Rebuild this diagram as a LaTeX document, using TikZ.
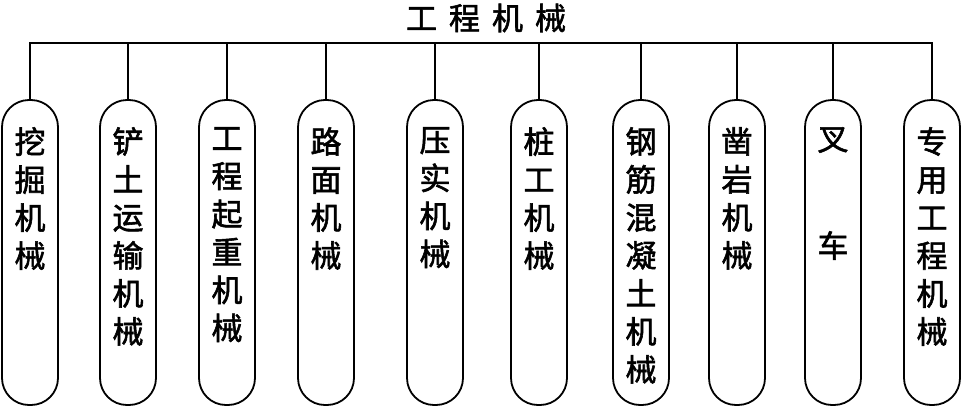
\documentclass[tikz,border=0pt]{standalone}
\usepackage{fontspec}
\newfontfamily\cjk[FakeBold=1.8]{Noto Sans CJK SC}
\tikzset{
  pill/.style={draw, line width=1.8pt, minimum width=56pt, minimum height=305pt, rounded corners=27pt, inner sep=0pt},
  vtext/.style={anchor=north, inner sep=0pt, align=center, font=\cjk\fontsize{31}{38}\selectfont},
  conn/.style={line width=1.8pt},
  titletext/.style={inner sep=0pt, font=\cjk\fontsize{31}{31}\selectfont}
}
\begin{document}
\begin{tikzpicture}[x=1pt,y=-1pt]
\useasboundingbox (0,0) rectangle (961,407);
\node[titletext] (title) at (486,18) {工\hspace{12pt}程\hspace{12pt}机\hspace{12pt}械};
\coordinate (bus) at (0,43);
\foreach \i/\x in {1/30,2/128,3/227,4/326,5/435,6/539,7/641,8/737,9/833,10/932}{
  \node[pill] (p\i) at (\x,252.5) {};
}
\node[vtext] (t1) at (30,127) {挖\\掘\\机\\械};
\node[vtext] (t2) at (128,127) {铲\\土\\运\\输\\机\\械};
\node[vtext] (t3) at (227,127) {工\\程\\起\\重\\机\\械};
\node[vtext] (t4) at (326,127) {路\\面\\机\\械};
\node[vtext] (t5) at (435,127) {压\\实\\机\\械};
\node[vtext] (t6) at (539,127) {桩\\工\\机\\械};
\node[vtext] (t7) at (641,127) {钢\\筋\\混\\凝\\土\\机\\械};
\node[vtext] (t8) at (737,127) {凿\\岩\\机\\械};
\node[vtext] (t9) at (833,127) {叉\\[69pt]车};
\node[vtext] (t10) at (932,127) {专\\用\\工\\程\\机\\械};
\draw[conn] (p1.north) -- (p1.north |- bus) -- (p10.north |- bus) -- (p10.north);
\foreach \i in {2,...,9}{
  \draw[conn] (p\i.north |- bus) -- (p\i.north);
}
\end{tikzpicture}
\end{document}
